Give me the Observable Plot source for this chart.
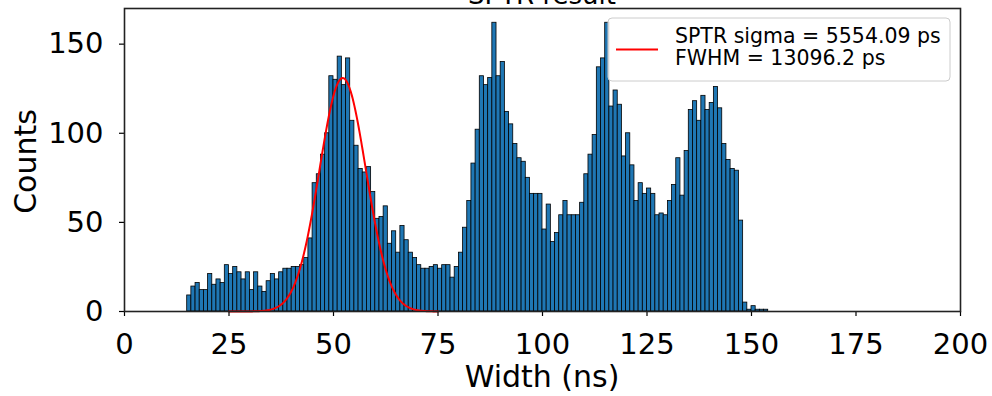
<!DOCTYPE html>
<html><head><meta charset="utf-8">
<script src="https://cdn.jsdelivr.net/npm/d3@7"></script>
<script src="https://cdn.jsdelivr.net/npm/@observablehq/plot@0.6"></script>
<style>
body{margin:0;background:#fff;}
#chart{position:relative;width:992px;height:396px;overflow:hidden;}
#chart svg{font-family:"DejaVu Sans",sans-serif;}
</style></head><body><div id="chart"></div>
<script>
// ---- data ----
const binStart = 15;          // left edge of first bin (ns)
const binWidth = 1;           // ns
const counts = [
  9,14,16,12,12,21,15,18,16,26,      // 15-24
  21,25,22,18,22,12,22,14,11,17,     // 25-34
  21,18,22,24,24,25,25,26,30,41,     // 35-44
  72,77,88,100,132,130,143,127,142,107, // 45-54
  93,80,78,81,67,52,53,59,38,45,     // 55-64
  33,48,40,33,30,26,24,24,25,26,     // 65-74
  24,26,26,19,25,33,47,62,83,102,    // 75-84
  132,127,131,162,132,140,112,105,94,86, // 85-94
  84,75,66,66,66,46,60,39,44,54,     // 95-104
  62,54,54,54,61,77,88,99,137,142,   // 105-114
  162,115,124,116,87,100,82,62,72,66, // 115-124
  69,66,54,55,54,62,71,86,65,90,     // 125-134
  113,118,107,121,113,117,126,114,94,85, // 135-144
  80,79,51,5,1,3,1,1,1               // 145-153
];
// Gaussian fit parameters (ns / counts)
const fitMean = 52.2;
const fitSigma = 5.55409;
const fitAmp = 131;
const fitRange = [25, 75];

const xTicks = [0, 25, 50, 75, 100, 125, 150, 175, 200];
const yTicks = [0, 50, 100, 150];
const xDomain = [0, 200];
const yDomain = [0, 170];
const titleText = "SPTR result";
const xLabel = "Width (ns)";
const yLabel = "Counts";
const legendLines = ["SPTR sigma = 5554.09 ps", "FWHM = 13096.2 ps"];

// ---- derived tables ----
const bins = counts.map((c, i) => ({x1: binStart + i * binWidth, x2: binStart + (i + 1) * binWidth, y: c}));
const fit = d3.range(fitRange[0], fitRange[1] + 1e-9, 0.2).map(x => ({
  x, y: fitAmp * Math.exp(-((x - fitMean) ** 2) / (2 * fitSigma ** 2))
}));

const W = 992, H = 396, ML = 124, MR = 32, MT = 8, MB = 85;

const chart = Plot.plot({
  width: W, height: H,
  marginLeft: ML, marginRight: MR, marginTop: MT, marginBottom: MB,
  x: {domain: xDomain},
  y: {domain: yDomain},
  style: {fontFamily: "DejaVu Sans", color: "#000", background: "transparent", overflow: "visible"},
  marks: [
    Plot.rectY(bins, {x1: "x1", x2: "x2", y: "y", fill: "#1f77b4", stroke: "#000", strokeWidth: 0.8}),
    Plot.line(fit, {x: "x", y: "y", stroke: "#ff0000", strokeWidth: 2}),
    Plot.axisX({ticks: xTicks, tickSize: 5, tickPadding: 17, fontSize: 29, label: null,
                tickFormat: d => String(d), stroke: "#000", strokeWidth: 1.2}),
    Plot.axisY({ticks: yTicks, tickSize: 5, tickPadding: 16, fontSize: 29, label: null,
                tickFormat: d => String(d), stroke: "#000", strokeWidth: 1.2}),
    Plot.frame({stroke: "#222", strokeWidth: 1.6})
  ]
});
document.getElementById("chart").appendChild(chart);

const svg = d3.select(chart);
const cx = ML + (W - ML - MR) / 2;
const cy = MT + (H - MT - MB) / 2;

// title (mostly cut by top edge, as in reference)
svg.append("text").attr("x", cx).attr("y", 4).attr("text-anchor", "middle")
  .attr("font-size", 26).attr("fill", "#000").text(titleText);

// axis labels
svg.append("text").attr("x", cx).attr("y", 387).attr("text-anchor", "middle")
  .attr("font-size", 30).attr("fill", "#000").text(xLabel);
svg.append("text").attr("transform", `translate(36,${cy + 2}) rotate(-90)`)
  .attr("text-anchor", "middle").attr("font-size", 30).attr("fill", "#000").text(yLabel);

// legend
const lg = svg.append("g");
lg.append("rect").attr("x", 608).attr("y", 18).attr("width", 342).attr("height", 63)
  .attr("rx", 4).attr("fill", "#fff").attr("fill-opacity", 0.8)
  .attr("stroke", "#cccccc").attr("stroke-width", 1);
lg.append("line").attr("x1", 616).attr("x2", 658).attr("y1", 49.5).attr("y2", 49.5)
  .attr("stroke", "#ff0000").attr("stroke-width", 2);
legendLines.forEach((t, i) => {
  lg.append("text").attr("x", 675).attr("y", 43 + i * 22).attr("font-size", 20.5)
    .attr("text-anchor", "start").attr("fill", "#000").text(t);
});
</script></body></html>
